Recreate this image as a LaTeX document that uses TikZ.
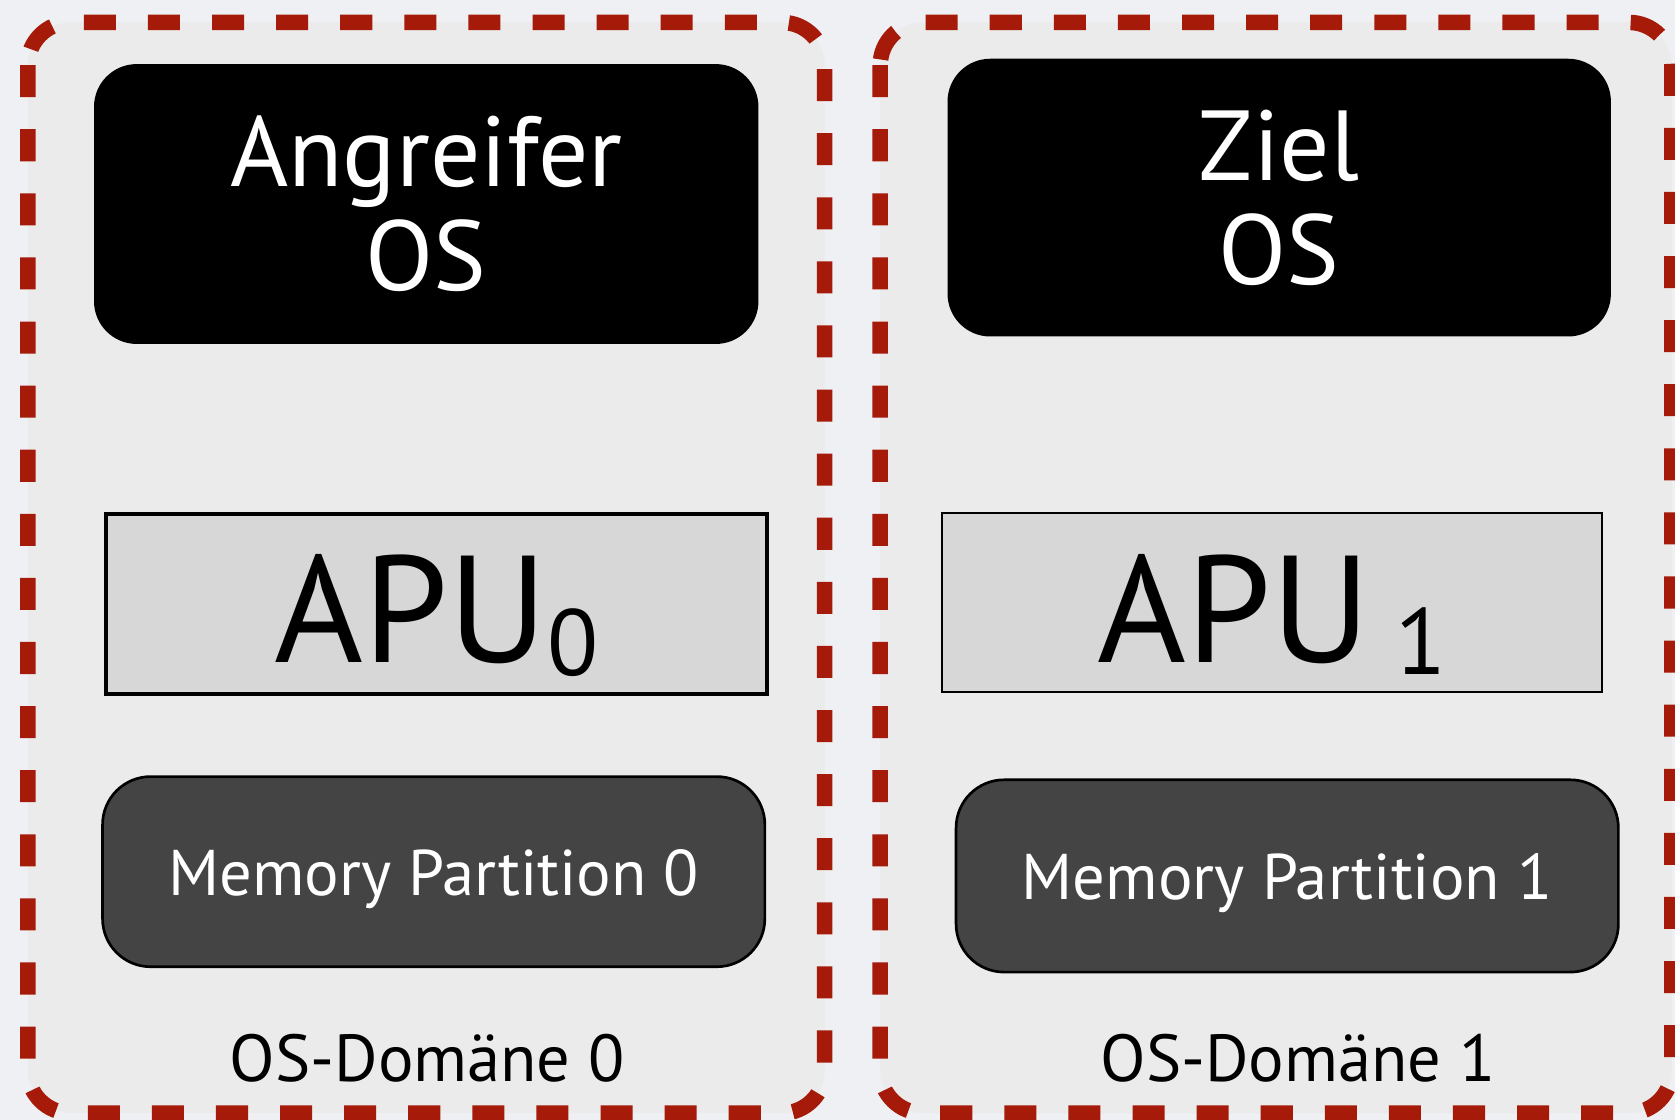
\documentclass[tikz,border=0pt]{standalone}
\usepackage{fontspec}
\setmainfont{PT Sans}
\definecolor{outerbg}{HTML}{EFF0F3}
\definecolor{innerbg}{HTML}{EBEBEB}
\definecolor{framered}{HTML}{A51A08}
\definecolor{apugray}{HTML}{D7D7D7}
\definecolor{memgray}{HTML}{444444}
\tikzset{
  domainframe/.style={draw=framered, line width=1.45mm, dash pattern=on 3mm off 3mm, rounded corners=4mm, fill=innerbg},
  osbox/.style={fill=black, text=white, rounded corners=4mm, align=center, inner sep=0pt,
    font=\fontsize{26.5}{27.6}\selectfont},
  apubox/.style={fill=apugray, draw=black, inner sep=0pt, font=\fontsize{40.5}{41}\selectfont, text depth=0pt},
  membox/.style={fill=memgray, draw=black, line width=0.25mm, rounded corners=4.5mm, text=white, inner sep=0pt,
    font=\fontsize{17.2}{18}\selectfont, text height=12.6pt, text depth=0pt},
  domlabel/.style={font=\fontsize{17.7}{18}\selectfont, text=black, anchor=base, inner sep=0pt},
}
\newcommand{\apusub}[1]{\raisebox{-3.4pt}{\fontsize{25}{25}\selectfont #1}}
\begin{document}
\begin{tikzpicture}[x=0.1mm, y=-0.1mm]
\useasboundingbox (0,0) rectangle (1568,1048);
\fill[outerbg] (0,0) rectangle (1568,1048);
% domain frames
\draw[domainframe] (26,21) rectangle (772,1042);
\draw[domainframe] (824,21) rectangle (1565,1042);
% OS boxes
\node[osbox, minimum width=62.2mm, minimum height=26.2mm] (angr) at (399,191) {Angreifer\\OS};
\node[osbox, minimum width=62.1mm, minimum height=26.0mm] (ziel) at (1197.5,185) {Ziel\\OS};
% APU boxes
\node[apubox, line width=0.4mm, text height=31pt, minimum width=61.9mm, minimum height=16.9mm] (apu0) at (408.5,565.5) {APU\apusub{0}};
\node[apubox, line width=0.2mm, text height=31.8pt, minimum width=61.8mm, minimum height=16.8mm] (apu1) at (1191,564) {APU\,\apusub{1}};
% memory partitions
\node[membox, minimum width=62.0mm, minimum height=17.8mm] (mem0) at (406,816) {Memory Partition 0};
\node[membox, minimum width=62.0mm, minimum height=18.0mm] (mem1) at (1205,820) {Memory Partition 1};
% domain labels
\node[domlabel] (dom0) at (400,1012) {OS-Domäne 0};
\node[domlabel] (dom1) at (1215,1012) {OS-Domäne 1};
\end{tikzpicture}
\end{document}
